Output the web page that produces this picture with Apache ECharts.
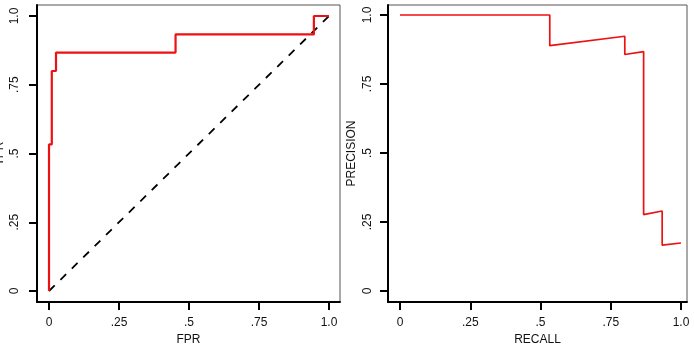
<!DOCTYPE html>
<html>
<head>
<meta charset="utf-8">
<script src="https://cdn.jsdelivr.net/npm/echarts@6/dist/echarts.min.js"></script>
<style>
  html, body { margin: 0; padding: 0; background: #fff; }
  #chart { width: 694px; height: 348px; }
</style>
</head>
<body>
<div id="chart"></div>
<script>
// tick positions and their printed labels (same on every axis)
var tickValues = [0, 0.25, 0.5, 0.75, 1];
var tickLabels = ['0', '.25', '.5', '.75', '1.0'];

// ROC curve (left panel)
var rocFpr = [0, 0, 0.01, 0.01, 0.025, 0.025, 0.452, 0.452, 0.946, 0.946, 1];
var rocTpr = [0, 0.533, 0.533, 0.8, 0.8, 0.867, 0.867, 0.933, 0.933, 1, 1];
var chanceX = [0, 1];
var chanceY = [0, 1];

// precision / recall curve (right panel)
var prRecall = [0, 0.533, 0.533, 0.8, 0.8, 0.867, 0.867, 0.933, 0.933, 1];
var prPrecision = [1, 1, 0.889, 0.923, 0.857, 0.867, 0.277, 0.29, 0.166, 0.174];

function zip(xs, ys) {
    return xs.map(function (x, i) { return [x, ys[i]]; });
}

function fmt(v) {
    var i = tickValues.indexOf(v);
    return i >= 0 ? tickLabels[i] : '';
}

var textFont = { fontFamily: 'Liberation Sans', fontSize: 12, color: '#111' };

function makeAxis(gridIndex, name, min, max, isY, labelMargin, nameGap) {
    return {
        type: 'value',
        gridIndex: gridIndex,
        min: min,
        max: max,
        name: name,
        nameLocation: 'middle',
        nameGap: nameGap,
        nameTextStyle: textFont,
        axisLine: { show: true, onZero: false, lineStyle: { color: '#000', width: 2 } },
        axisTick: {
            show: true,
            customValues: tickValues,
            length: 8,
            lineStyle: { color: '#000', width: 2 }
        },
        axisLabel: {
            customValues: tickValues,
            formatter: fmt,
            margin: labelMargin,
            rotate: isY ? 90 : 0,
            fontFamily: 'Liberation Sans',
            fontSize: 12,
            color: '#111'
        },
        splitLine: { show: false }
    };
}

var chart = echarts.init(document.getElementById('chart'));
chart.setOption({
    animation: false,
    grid: [
        { left: 37, top: 5, width: 303, height: 297, show: true, borderColor: '#555', borderWidth: 1, containLabel: false, outerBoundsMode: 'none' },
        { left: 388, top: 5, width: 299, height: 297, show: true, borderColor: '#555', borderWidth: 1, containLabel: false, outerBoundsMode: 'none' }
    ],
    xAxis: [
        makeAxis(0, 'FPR', -12 / 280, 1 + 11 / 280, false, 15, 32),
        makeAxis(1, 'RECALL', -12 / 281, 1 + 6 / 281, false, 15, 31)
    ],
    yAxis: [
        makeAxis(0, 'TPR', -11 / 275, 1 + 11 / 275, true, 16, 31),
        makeAxis(1, 'PRECISION', -11 / 276, 1 + 10 / 276, true, 14, 30)
    ],
    series: [
        {
            name: 'chance',
            type: 'line',
            xAxisIndex: 0,
            yAxisIndex: 0,
            data: zip(chanceX, chanceY),
            showSymbol: false,
            lineStyle: { color: '#000', width: 1.8, type: [8, 8] }
        },
        {
            name: 'ROC',
            type: 'line',
            xAxisIndex: 0,
            yAxisIndex: 0,
            data: zip(rocFpr, rocTpr),
            showSymbol: false,
            lineStyle: { color: '#ee1111', width: 2.2 }
        },
        {
            name: 'PR',
            type: 'line',
            xAxisIndex: 1,
            yAxisIndex: 1,
            data: zip(prRecall, prPrecision),
            showSymbol: false,
            lineStyle: { color: '#ee1111', width: 1.7 }
        }
    ]
});
</script>
</body>
</html>
